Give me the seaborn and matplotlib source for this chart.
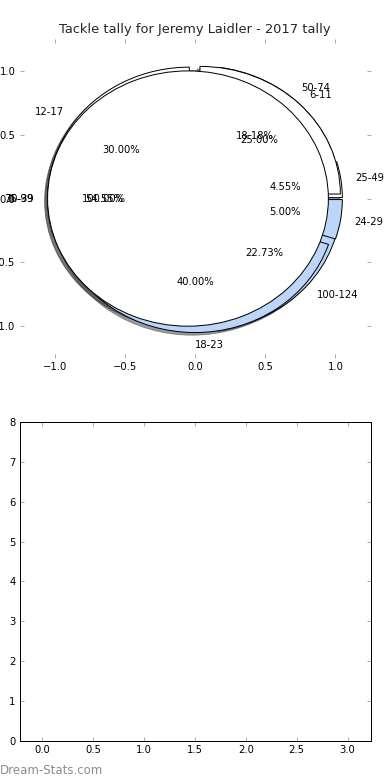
import numpy as np
import matplotlib
matplotlib.use("Agg")
import matplotlib.pyplot as plt
import seaborn as sns

# ---- data ----
chart_title = "Tackle tally for Jeremy Laidler - 2017 tally"
game_bins = ["6-11", "12-17", "18-23", "24-29"]
game_counts = [5, 6, 8, 1]
season_bins = ["25-49", "50-74", "75-99", "100-124"]
season_counts = [1, 4, 12, 5]
single_bins = ["30-39"]
single_counts = [1]
pie_ticks = [-1.0, -0.5, 0.0, 0.5, 1.0]
bar_xticks = [0.0, 0.5, 1.0, 1.5, 2.0, 2.5, 3.0]
bar_yticks = [0, 1, 2, 3, 4, 5, 6, 7, 8]
watermark = "Dream-Stats.com"

WHITE = "#ffffff"
BLUE = "#bcd5f8"
game_colors = [WHITE, WHITE, BLUE, BLUE]
season_colors = [WHITE, WHITE, WHITE, BLUE]
single_colors = [WHITE]

sns.set_style("white")
plt.rcParams["font.family"] = ["DejaVu Sans"]

fig = plt.figure(figsize=(390 / 72, 780 / 72), dpi=72)
fig.subplots_adjust(left=0.05, right=0.95, top=0.95, bottom=0.05, hspace=0.2)
ax1 = fig.add_subplot(211)
ax2 = fig.add_subplot(212)

wp = dict(edgecolor="black", linewidth=1.0)
for vals, labs, cols in [(season_counts, season_bins, season_colors),
                         (game_counts, game_bins, game_colors),
                         (single_counts, single_bins, single_colors)]:
    wedges, texts, autotexts = ax1.pie(
        vals, labels=labs, colors=cols, explode=[0.05] * len(vals),
        autopct="%1.2f%%", shadow=True, startangle=0, counterclock=True,
        wedgeprops=wp, textprops=dict(fontsize=10, color="black"))
    for t in texts:
        x, y = t.get_position()
        if abs(x) < 1e-6:
            t.set_horizontalalignment("left")

ax1.set_aspect("auto")
ax1.set_xlim(-1.25, 1.25)
ax1.set_ylim(-1.25, 1.25)
ax1.set_frame_on(False)
ax1.set_xticks(pie_ticks)
ax1.set_yticks(pie_ticks)
ax1.tick_params(direction="in", top=True, right=True, bottom=True, left=True,
                length=4, width=1, color="#aaaaaa", labelsize=10, pad=4,
                labelcolor="black")
ax1.set_title(chart_title, fontsize=13, pad=6)

ax2.set_xlim(-0.225, 3.225)
ax2.set_ylim(0, 8)
ax2.set_xticks(bar_xticks)
ax2.set_yticks(bar_yticks)
for s in ax2.spines.values():
    s.set_visible(True)
    s.set_color("black")
    s.set_linewidth(1.0)
ax2.tick_params(direction="in", top=True, right=True, bottom=True, left=True,
                length=4, width=1, color="#aaaaaa", labelsize=10, pad=4,
                labelcolor="black")

fig.text(0.0, 1 - 770 / 780, watermark, ha="left", va="center",
         color="#8c8c8c", fontsize=11.8)

fig.savefig("out.png", dpi=72, facecolor="white")
